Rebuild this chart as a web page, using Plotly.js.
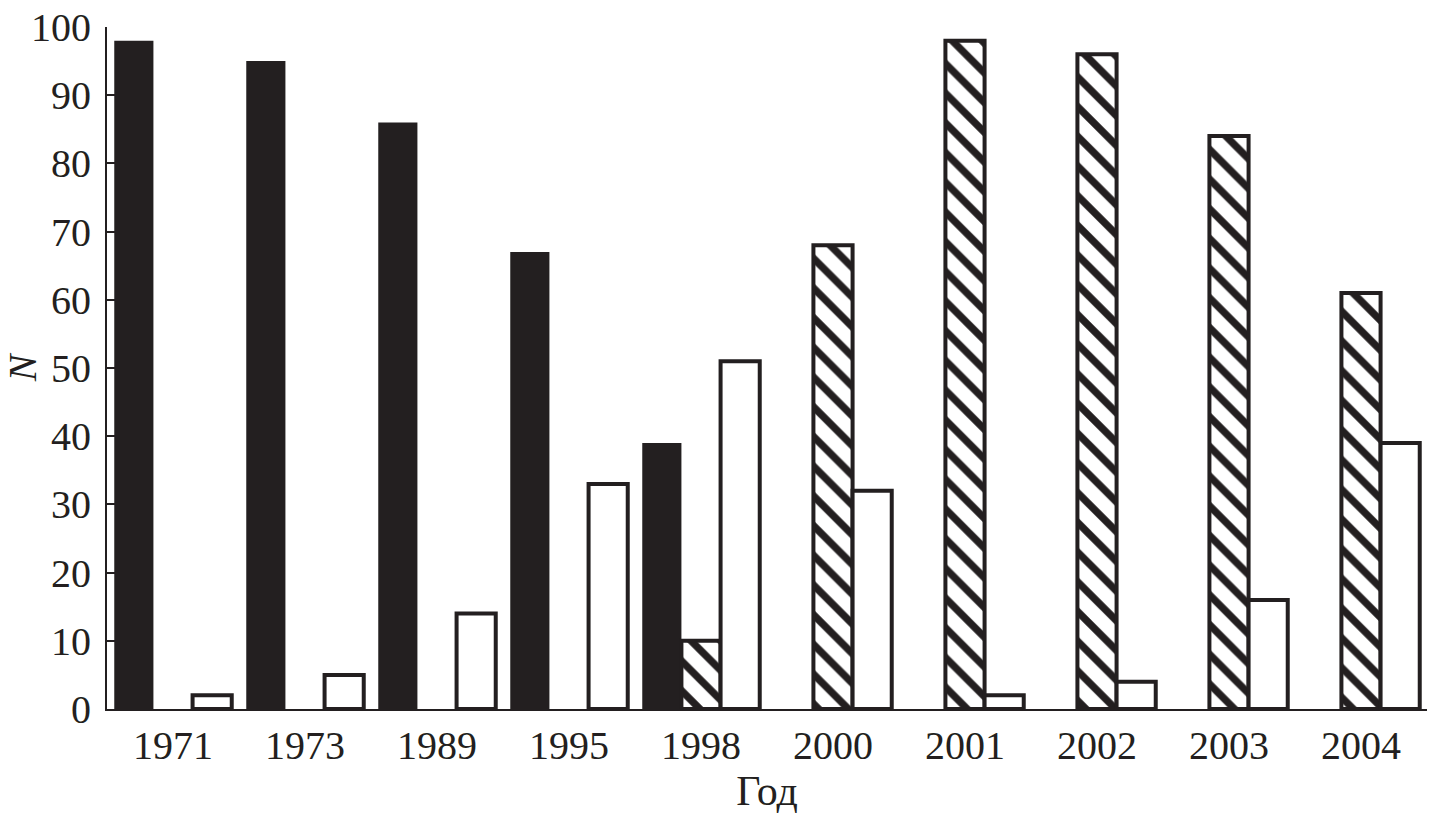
<!DOCTYPE html>
<html><head><meta charset="utf-8">
<script src="https://cdn.plot.ly/plotly-3.0.1.min.js"></script>
<style>html,body{margin:0;padding:0;background:#fff}#chart{width:1433px;height:820px}</style>
</head><body><div id="chart"></div>
<script>
const years = ["1971","1973","1989","1995","1998","2000","2001","2002","2003","2004"];
const solidValues = [98, 95, 86, 67, 39, null, null, null, null, null];
const hatchedValues = [null, null, null, null, 10, 68, 98, 96, 84, 61];
const whiteValues = [2, 5, 14, 33, 51, 32, 2, 4, 16, 39];
const yTicks = [0,10,20,30,40,50,60,70,80,90,100];

const ink = "#231f20";
const traces = [
  {type:"bar", x:years, y:solidValues, name:"solid",
   marker:{color:ink, line:{color:ink, width:0}}},
  {type:"bar", x:years, y:hatchedValues, name:"hatched",
   marker:{color:"white", line:{color:ink, width:4},
     pattern:{shape:"\\", fgcolor:ink, bgcolor:"white", size:21, solidity:0.35, fillmode:"replace"}}},
  {type:"bar", x:years, y:whiteValues, name:"white",
   marker:{color:"white", line:{color:ink, width:4}}}
];
const fam = "Liberation Serif, Times New Roman, serif";
const layout = {
  width:1433, height:820,
  margin:{l:107, r:6, t:27, b:111},
  paper_bgcolor:"white", plot_bgcolor:"white",
  showlegend:false, barmode:"group", bargap:0.11, bargroupgap:0,
  font:{family:fam, color:ink, size:40},
  xaxis:{type:"category", showline:true, linecolor:ink, linewidth:2, ticks:"",
    showgrid:false, zeroline:false, tickfont:{size:40, family:fam, color:ink},
    ticklabelstandoff:0,
    title:{text:"Год", font:{size:42, family:fam, color:ink}, standoff:4}},
  yaxis:{range:[0,100], tickvals:yTicks, showline:true, linecolor:ink, linewidth:2,
    ticks:"inside", ticklen:8, tickwidth:2, tickcolor:ink, showgrid:false, zeroline:false,
    tickfont:{size:40, family:fam, color:ink}, ticklabelstandoff:6,
    title:{text:"<i>N</i>", font:{size:40, family:fam, color:ink}, standoff:2}}
};
Plotly.newPlot("chart", traces, layout, {staticPlot:true});
</script></body></html>
